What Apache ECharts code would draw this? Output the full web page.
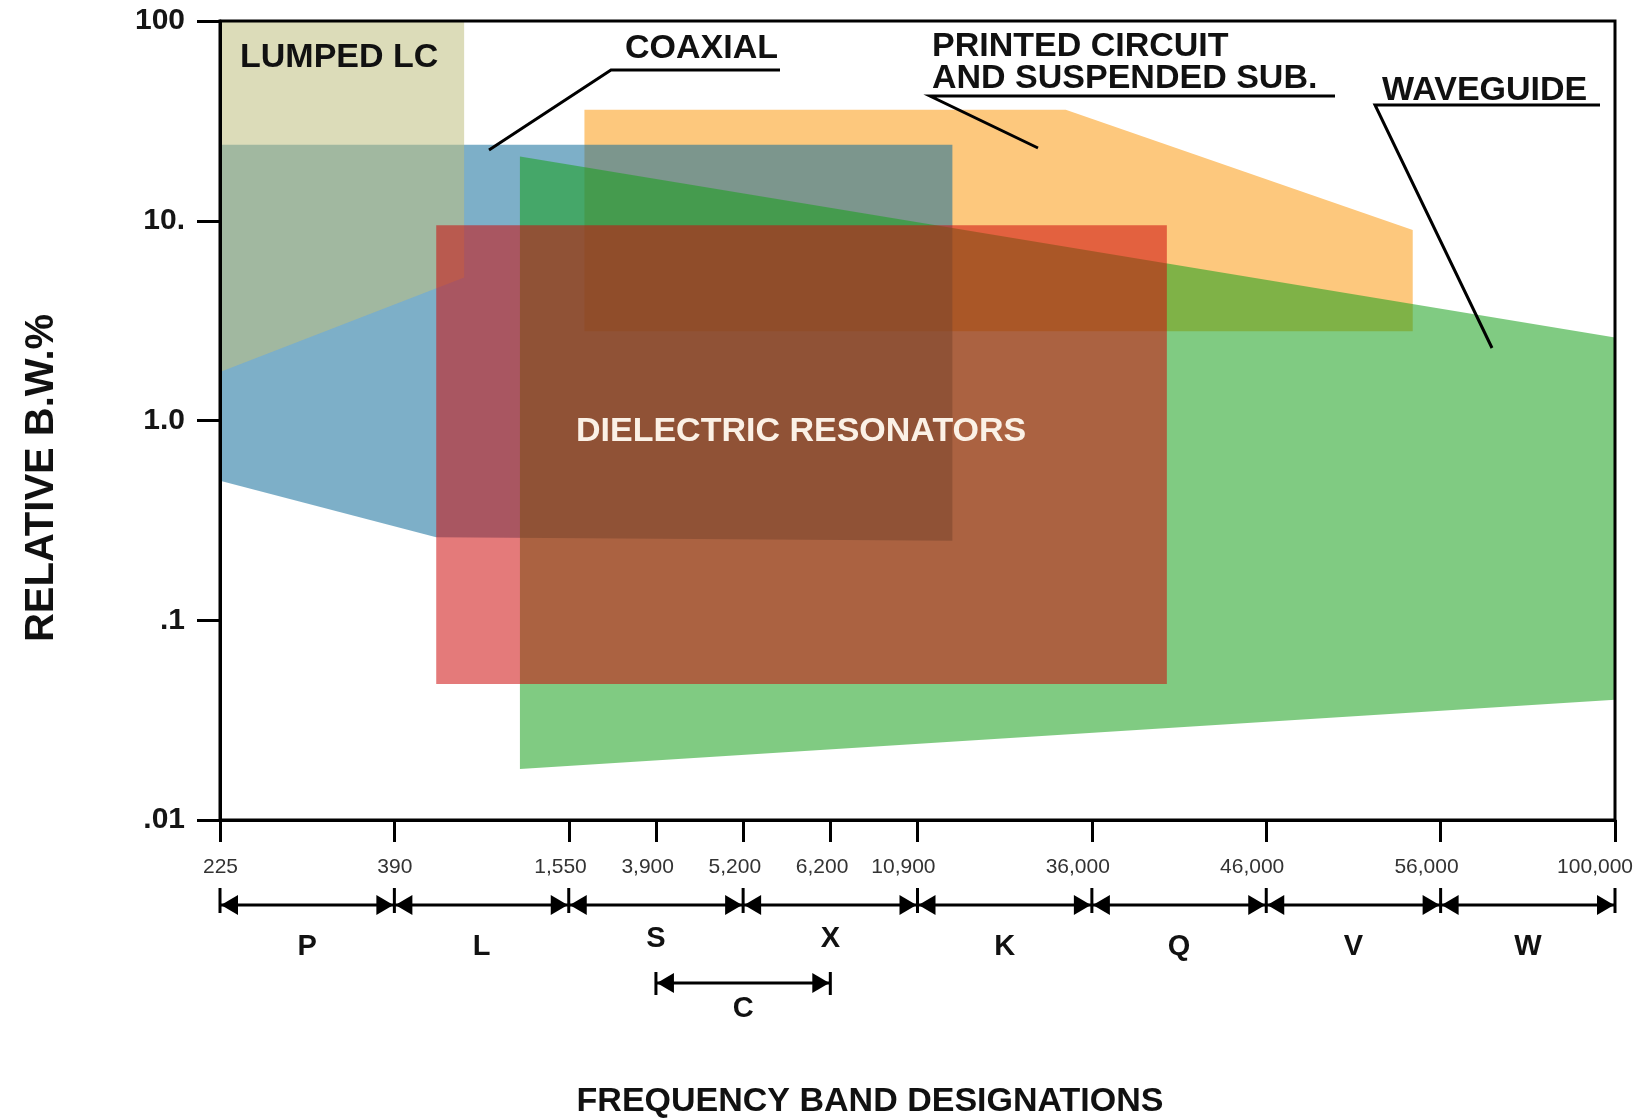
<!DOCTYPE html>
<html>
<head>
<meta charset="utf-8">
<title>Relative bandwidth by frequency band</title>
<script src="https://cdn.jsdelivr.net/npm/echarts@6/dist/echarts.min.js"></script>
<style>
  html, body { margin: 0; padding: 0; background: #ffffff; }
  #chart { width: 1639px; height: 1118px; }
</style>
</head>
<body>
<div id="chart"></div>
<script>
// ---- Frequency axis: band edges (MHz) and their slots on the designation scale ----
const freqLabels = ['225', '390', '1,550', '3,900', '5,200', '6,200', '10,900', '36,000', '46,000', '56,000', '100,000'];
const freqSlots  = [0, 1, 2, 2.5, 3, 3.5, 4, 5, 6, 7, 8];

// ---- Band designations (start / end slot) ----
const bandNames = ['P', 'L', 'S', 'X', 'K', 'Q', 'V', 'W'];
const bandStart = [0, 1, 2, 3, 4, 5, 6, 7];
const bandEnd   = [1, 2, 3, 4, 5, 6, 7, 8];
const subBandNames = ['C'];
const subBandStart = [2.5];
const subBandEnd   = [3.5];

// ---- Relative bandwidth axis tick texts (decades 0.01 .. 100) ----
const bwTickLabels = ['.01', '.1', '1.0', '10.', '100'];

// ---- Technology regions: outline vertices (slot, relative B.W. %) ----
const printedSlot = [2.09, 4.85, 6.84, 6.84, 2.09];
const printedBW   = [36, 36, 9.0, 2.8, 2.8];

const coaxialSlot = [0, 4.2, 4.2, 1.24, 0];
const coaxialBW   = [24, 24, 0.25, 0.26, 0.5];

const lumpedSlot = [0, 1.4, 1.4, 0];
const lumpedBW   = [100, 100, 5.2, 1.75];

const waveguideSlot = [1.72, 8, 8, 1.72];
const waveguideBW   = [21, 2.6, 0.040, 0.018];

const dielectricSlot = [1.24, 5.43, 5.43, 1.24];
const dielectricBW   = [9.5, 9.5, 0.048, 0.048];

const FONT = '"Liberation Sans", Arial, Helvetica, sans-serif';

const chart = echarts.init(document.getElementById('chart'), null, { renderer: 'canvas' });

function regionSeries(name, slots, bws, fill) {
  return {
    type: 'custom',
    name: name,
    coordinateSystem: 'cartesian2d',
    silent: true,
    animation: false,
    clip: true,
    data: slots.map((s, i) => [s, bws[i]]),
    renderItem: function (params, api) {
      if (params.dataIndex !== 0) return null;
      const pts = slots.map((s, i) => api.coord([s, bws[i]]));
      return { type: 'polygon', shape: { points: pts }, style: { fill: fill } };
    }
  };
}

const option = {
  backgroundColor: '#ffffff',
  animation: false,
  grid: {
    left: 220, right: 24, top: 21, bottom: 298,
    show: true, z: 5,
    backgroundColor: 'transparent',
    borderColor: '#000', borderWidth: 3
  },
  xAxis: {
    type: 'value', min: 0, max: 8, z: 10,
    axisLine: { show: true, lineStyle: { color: '#000', width: 3 } },
    axisTick: { show: true, customValues: freqSlots, length: 22, lineStyle: { color: '#000', width: 3 } },
    axisLabel: { show: false, customValues: freqSlots },
    splitLine: { show: false }
  },
  yAxis: {
    type: 'log', logBase: 10, min: 0.01, max: 100, z: 10,
    axisLine: { show: true, lineStyle: { color: '#000', width: 3 } },
    axisTick: { show: true, length: 23, lineStyle: { color: '#000', width: 3 } },
    axisLabel: {
      margin: 35, fontSize: 30, fontWeight: 'bold', color: '#151515', fontFamily: FONT,
      formatter: function (v) { return bwTickLabels[Math.round(Math.log10(v)) + 2]; }
    },
    splitLine: { show: false }
  },
  series: [
    regionSeries('Printed circuit', printedSlot, printedBW, 'rgb(253,200,125)'),
    regionSeries('Coaxial', coaxialSlot, coaxialBW, 'rgba(19,110,155,0.55)'),
    regionSeries('Lumped LC', lumpedSlot, lumpedBW, 'rgba(191,191,128,0.55)'),
    regionSeries('Waveguide', waveguideSlot, waveguideBW, 'rgba(24,160,28,0.55)'),
    regionSeries('Dielectric resonators', dielectricSlot, dielectricBW, 'rgba(206,13,13,0.55)')
  ]
};
chart.setOption(option);

// ---- Annotations, band-designation row and axis titles ----
const g = [];
function text(x, y, str, font, opts) {
  opts = opts || {};
  g.push({
    type: 'text', x: x, y: y, z: 100, rotation: opts.rotation || 0, silent: true,
    style: {
      text: str, font: font, fill: opts.fill || '#111',
      align: opts.align || 'left', verticalAlign: 'middle'
    }
  });
}
function line(points, width) {
  g.push({
    type: 'polyline', z: 100, silent: true,
    shape: { points: points },
    style: { stroke: '#000', lineWidth: width || 3, fill: null }
  });
}
function tri(points) {
  g.push({ type: 'polygon', z: 100, silent: true, shape: { points: points }, style: { fill: '#000' } });
}

const labelFont = 'bold 34px ' + FONT;
text(240, 57.5, 'LUMPED LC', labelFont);
text(625, 49, 'COAXIAL', labelFont);
line([[780, 70], [611, 70], [489, 150]]);
text(932, 47, 'PRINTED CIRCUIT', labelFont);
text(932, 79, 'AND SUSPENDED SUB.', labelFont);
line([[1335, 96], [930, 96], [1038, 148]]);
text(1382, 91, 'WAVEGUIDE', labelFont);
line([[1600, 105], [1375, 105], [1492, 348]]);
text(576, 432, 'DIELECTRIC RESONATORS', labelFont, { fill: '#fbf1e6' });

// frequency tick texts under the axis
const px = v => chart.convertToPixel({ xAxisIndex: 0 }, v);
freqLabels.forEach((lab, i) => {
  text(px(freqSlots[i]) + 18, 867, lab, '21px ' + FONT, { align: 'right', fill: '#333' });
});

// band arrows
const HW = 18, HH = 20;
function arrowRow(starts, ends, names, rowY, tickUp, tickDown, labelY, raisedFn) {
  const edges = new Set();
  starts.forEach((s, i) => {
    const x1 = px(s), x2 = px(ends[i]);
    edges.add(x1); edges.add(x2);
    line([[x1, rowY], [x2, rowY]], 3);
    tri([[x1 + 1, rowY], [x1 + HW, rowY - HH / 2], [x1 + HW, rowY + HH / 2]]);
    tri([[x2 - 1, rowY], [x2 - HW, rowY - HH / 2], [x2 - HW, rowY + HH / 2]]);
    const mid = (s + ends[i]) / 2;
    const ly = raisedFn && raisedFn(mid) ? labelY - 8 : labelY;
    text(px(mid), ly, names[i], 'bold 29px ' + FONT, { align: 'center' });
  });
  edges.forEach(x => line([[x, rowY - tickUp], [x, rowY + tickDown]], 3));
}
const underSub = m => subBandStart.some((s, i) => m >= s && m <= subBandEnd[i]);
arrowRow(bandStart, bandEnd, bandNames, 905, 17, 8, 947, underSub);
arrowRow(subBandStart, subBandEnd, subBandNames, 983, 11, 12, 1009, null);

// axis titles
text(870, 1102, 'FREQUENCY BAND DESIGNATIONS', 'bold 34px ' + FONT, { align: 'center' });
text(42, 478, 'RELATIVE B.W.%', 'bold 40px ' + FONT, { align: 'center', rotation: Math.PI / 2 });

chart.setOption({ graphic: { elements: g } });
</script>
</body>
</html>
